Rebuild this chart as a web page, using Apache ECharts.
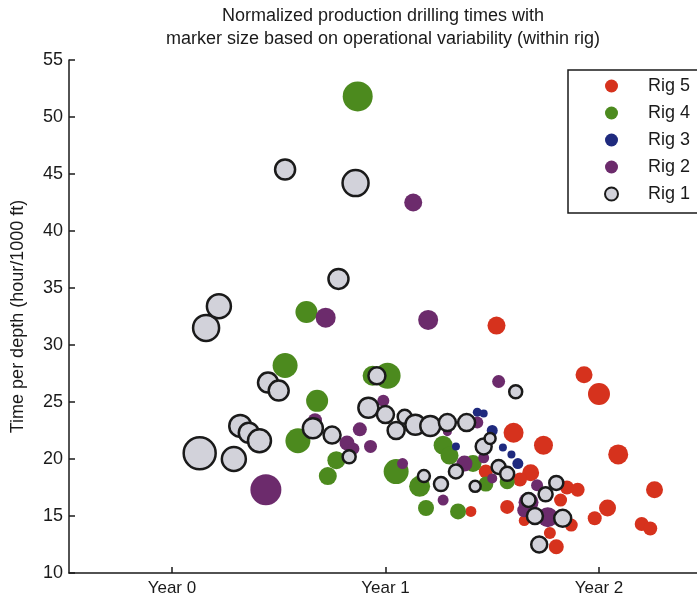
<!DOCTYPE html>
<html>
<head>
<meta charset="utf-8">
<script src="https://cdn.jsdelivr.net/npm/echarts@6/dist/echarts.min.js"></script>
<style>
html,body{margin:0;padding:0;background:#fff;}
#chart{width:697px;height:601px;}
</style>
</head>
<body>
<div id="chart"></div>
<script>
// ---- Data (x in years, y in hours per 1000 ft, marker size from operational variability) ----
const xTickValues = [0, 1, 2];
const legendNames = ['Rig 5', 'Rig 4', 'Rig 3', 'Rig 2', 'Rig 1'];

const rig5Years = [1.52,1.93,2.00,1.60,1.74,2.09,1.68,1.63,1.47,1.85,1.90,1.82,1.57,2.26,2.04,1.98,2.20,2.24,1.65,1.87,1.77,1.80,1.40];
const rig5Times = [31.7,27.4,25.7,22.3,21.2,20.4,18.8,18.2,18.9,17.5,17.3,16.4,15.8,17.3,15.7,14.8,14.3,13.9,14.6,14.2,13.5,12.3,15.4];
const rig5Sizes = [18,17,22,20,19,20,17,14,14,14,14,13,14,17,17,14,14,14,11,13,12,15,11];

const rig4Years = [0.87,0.63,0.53,0.68,0.59,0.77,0.73,0.94,1.01,1.05,1.16,1.19,1.27,1.30,1.41,1.47,1.34,1.57];
const rig4Times = [51.8,32.9,28.2,25.1,21.6,19.9,18.5,27.3,27.3,18.9,17.6,15.7,21.2,20.3,19.6,17.8,15.4,18.0];
const rig4Sizes = [30,22,25,22,25,18,18,20,26,25,21,16,19,18,17,15,16,15];

const rig3Years = [1.43,1.46,1.50,1.33,1.55,1.59,1.62];
const rig3Times = [24.1,24.0,22.5,21.1,21.0,20.4,19.6];
const rig3Sizes = [9,8,11,8,8,8,11];

const rig2Years = [0.44,0.72,1.13,1.20,1.53,0.99,0.88,0.93,0.82,0.85,0.67,1.08,1.27,1.37,1.46,1.50,1.29,1.43,1.67,1.76,1.71,1.65];
const rig2Times = [17.3,32.4,42.5,32.2,26.8,25.1,22.6,21.1,21.4,20.9,23.4,19.6,16.4,19.6,20.1,18.3,22.4,23.2,16.2,14.9,17.7,15.5];
const rig2Sizes = [31,20,18,20,13,12,14,13,15,12,14,11,11,16,11,10,9,12,20,20,12,14];

const rig1Years = [0.13,0.29,0.16,0.22,0.32,0.36,0.41,0.45,0.50,0.53,0.86,0.78,0.66,0.75,0.83,0.96,0.92,1.00,1.05,1.09,1.14,1.21,1.29,1.38,1.18,1.26,1.33,1.42,1.46,1.49,1.53,1.57,1.61,1.80,1.75,1.67,1.70,1.83,1.72];
const rig1Times = [20.5,20.0,31.5,33.4,22.9,22.3,21.6,26.7,26.0,45.4,44.2,35.8,22.7,22.1,20.2,27.3,24.5,23.9,22.5,23.7,23.0,22.9,23.2,23.2,18.5,17.8,18.9,17.6,21.1,21.8,19.3,18.7,25.9,17.9,16.9,16.4,15.0,14.8,12.5];
const rig1Sizes = [32,24,26,24,22,20,23,20,20,20,26,20,20,17,13,17,20,17,17,14,20,20,17,17,12,14,14,11,16,11,14,14,13,14,14,14,16,17,16];

// ---- Build ----
function pts(xs, ys, ss) { return xs.map((x, i) => [x, ys[i], ss[i]]); }

const FONT = '"Liberation Sans", Arial, Helvetica, sans-serif';
const chart = echarts.init(document.getElementById('chart'), null, {renderer: 'canvas'});

function series(name, data, color, extra) {
  return Object.assign({
    name: name,
    type: 'scatter',
    data: data,
    symbol: 'circle',
    symbolSize: v => v[2],
    itemStyle: {color: color, opacity: 1},
    emphasis: {disabled: true},
    animation: false
  }, extra || {});
}

chart.setOption({
  backgroundColor: '#ffffff',
  animation: false,
  title: {
    text: 'Normalized production drilling times with\nmarker size based on operational variability (within rig)',
    left: 383,
    textAlign: 'center',
    top: 5,
    padding: 0,
    textStyle: {fontFamily: FONT, fontSize: 18, fontWeight: 'normal', color: '#1a1a1a', lineHeight: 23}
  },
  grid: {left: 69, top: 60, right: 0, bottom: 28, containLabel: false},
  xAxis: {
    type: 'value',
    min: -0.482,
    max: 2.459,
    axisLine: {show: true, onZero: false, lineStyle: {color: '#1a1a1a', width: 1.5}},
    axisTick: {show: true, inside: true, length: 6, customValues: xTickValues, lineStyle: {color: '#1a1a1a', width: 1.5}},
    axisLabel: {customValues: xTickValues, formatter: v => 'Year ' + v, fontFamily: FONT, fontSize: 17, color: '#1a1a1a', margin: 7},
    splitLine: {show: false}
  },
  yAxis: {
    type: 'value',
    min: 10,
    max: 55,
    interval: 5,
    name: 'Time per depth (hour/1000 ft)',
    nameLocation: 'middle',
    nameGap: 42,
    nameRotate: 90,
    nameTextStyle: {fontFamily: FONT, fontSize: 18, color: '#1a1a1a'},
    axisLine: {show: true, onZero: false, lineStyle: {color: '#1a1a1a', width: 1.5}},
    axisTick: {show: true, inside: true, length: 6, lineStyle: {color: '#1a1a1a', width: 1.5}},
    axisLabel: {fontFamily: FONT, fontSize: 18, color: '#1a1a1a', margin: 6},
    splitLine: {show: false}
  },
  legend: {
    data: legendNames,
    orient: 'vertical',
    left: 568,
    top: 70,
    icon: 'circle',
    itemWidth: 13,
    itemHeight: 13,
    itemGap: 9,
    padding: [7, 40, 10, 36],
    borderColor: '#1a1a1a',
    borderWidth: 1.5,
    backgroundColor: '#ffffff',
    selectedMode: false,
    textStyle: {fontFamily: FONT, fontSize: 18, color: '#1a1a1a', lineHeight: 18, padding: [0, 0, 0, 25]}
  },
  series: [
    series('Rig 5', pts(rig5Years, rig5Times, rig5Sizes), '#d6321d'),
    series('Rig 4', pts(rig4Years, rig4Times, rig4Sizes), '#4c8a1e'),
    series('Rig 3', pts(rig3Years, rig3Times, rig3Sizes), '#1f2a7e'),
    series('Rig 2', pts(rig2Years, rig2Times, rig2Sizes), '#6c2b6c'),
    series('Rig 1', pts(rig1Years, rig1Times, rig1Sizes), '#d2d2da', {
      itemStyle: {color: '#d2d2da', borderColor: '#1a1a1a', borderWidth: 2.5, opacity: 1}
    })
  ]
});
</script>
</body>
</html>
